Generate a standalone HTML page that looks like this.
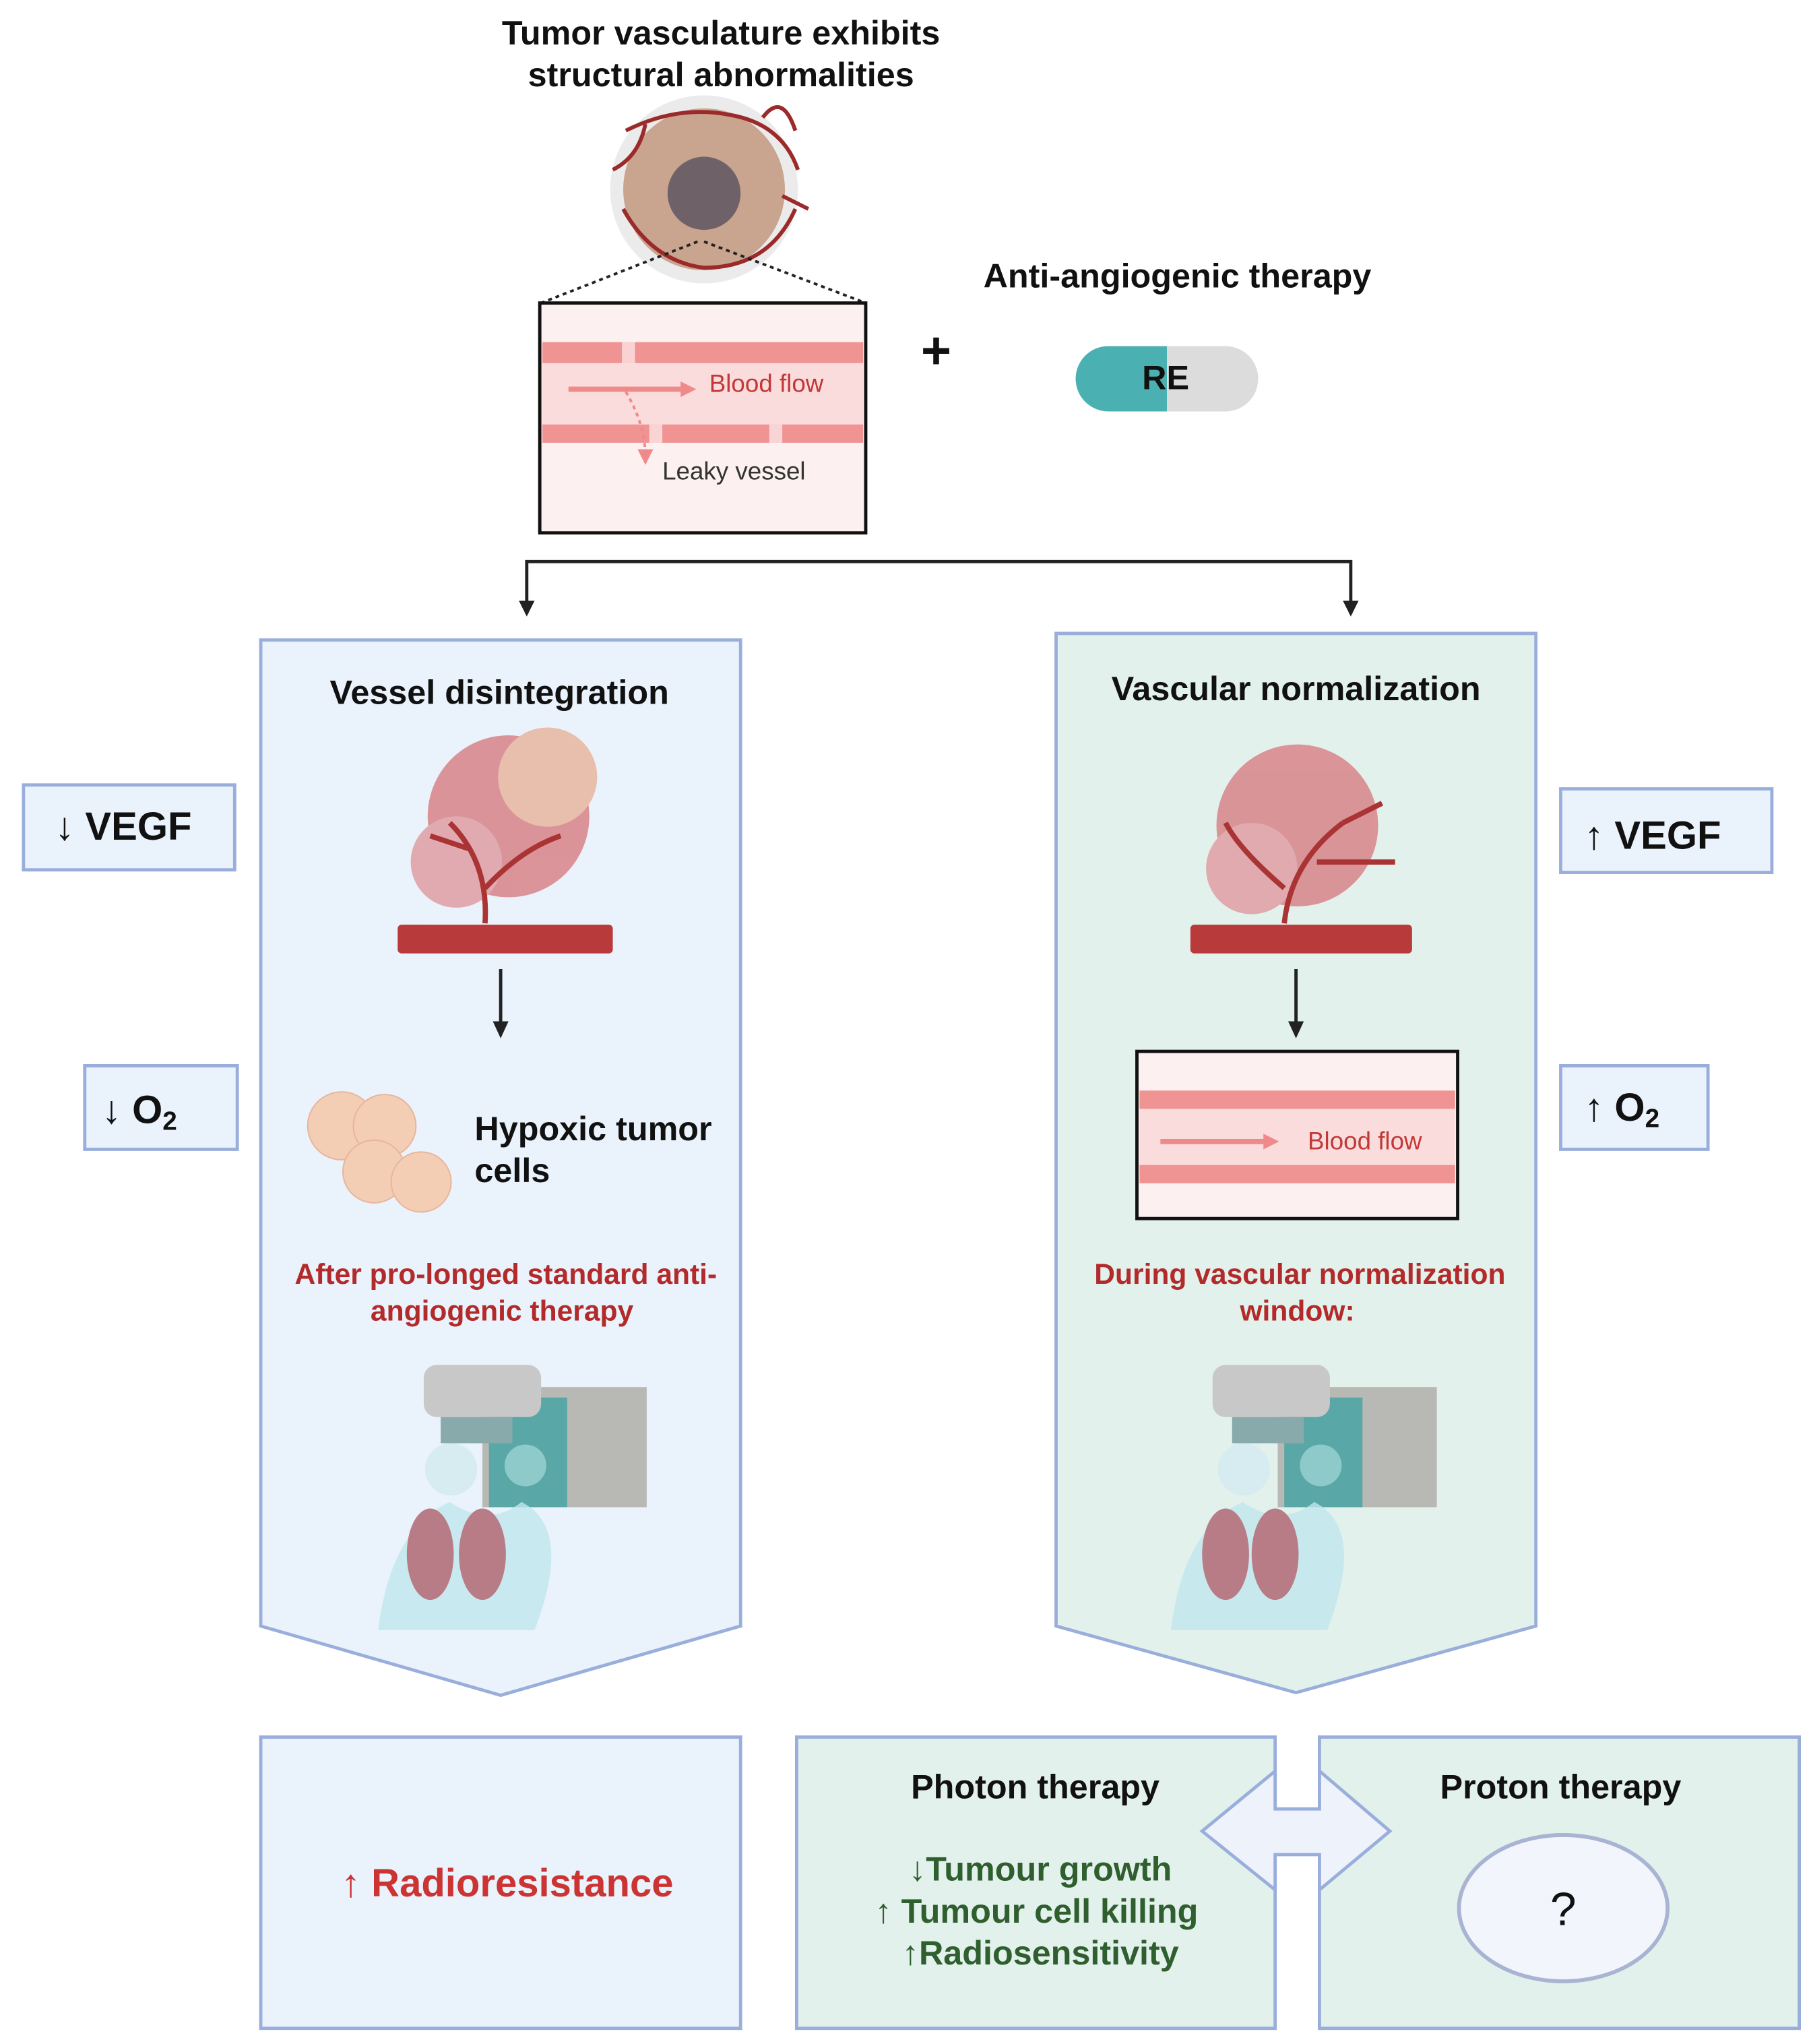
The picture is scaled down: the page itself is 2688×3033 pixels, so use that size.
<!DOCTYPE html>
<html><head><meta charset="utf-8"><style>html,body{margin:0;padding:0;background:#fff}svg{display:block}text{font-family:"Liberation Sans",sans-serif}</style></head><body>
<svg width="2688" height="3033" viewBox="0 0 1389 1565" preserveAspectRatio="none" xmlns="http://www.w3.org/2000/svg">
<defs>
<marker id="ah" markerWidth="10" markerHeight="10" refX="5" refY="5" orient="auto" markerUnits="userSpaceOnUse"><path d="M0,0 L10,5 L0,10 z" fill="#222"/></marker>
<marker id="ahp" markerWidth="12" markerHeight="12" refX="6" refY="6" orient="auto" markerUnits="userSpaceOnUse"><path d="M0,0 L12,6 L0,12 z" fill="#ee8a8a"/></marker>
</defs>
<rect width="1389" height="1565" fill="#fff"/>
<text x="553" y="34" font-size="26" font-weight="bold" text-anchor="middle" fill="#111">Tumor vasculature exhibits</text>
<text x="553" y="66" font-size="26" font-weight="bold" text-anchor="middle" fill="#111">structural abnormalities</text>
<circle cx="540" cy="145" r="72" fill="#ddd" opacity="0.6"/>
<circle cx="540" cy="145" r="62" fill="#c9a48e"/>
<circle cx="540" cy="148" r="28" fill="#6e6268"/>
<g stroke="#9b2a2a" stroke-width="3" fill="none">
<path d="M480,100 Q520,80 560,88 Q600,95 612,130"/><path d="M478,160 Q500,200 540,205 Q590,205 610,160"/><path d="M470,130 Q490,120 495,95"/><path d="M585,90 Q600,70 610,100"/><path d="M600,150 L620,160"/>
</g>
<path d="M535,185 L415,232 M540,185 L664,232" stroke="#222" stroke-width="2" stroke-dasharray="3,3"/>
<rect x="414" y="232" width="250" height="176" fill="#fcf0f0" stroke="#111" stroke-width="2.5"/>
<rect x="416" y="262" width="246" height="70" fill="#fbdcdc"/>
<g fill="#f09393"><rect x="416" y="262" width="246" height="16"/><rect x="416" y="325" width="246" height="14"/></g>
<g fill="#fff" opacity="0.6"><rect x="477" y="262" width="10" height="16"/><rect x="498" y="325" width="10" height="14"/><rect x="590" y="325" width="10" height="14"/></g>
<line x1="436" y1="298" x2="528" y2="298" stroke="#ee8a8a" stroke-width="4" marker-end="url(#ahp)"/>
<path d="M480,300 Q495,325 495,350" stroke="#ee8a8a" stroke-width="2" stroke-dasharray="3,3" fill="none" marker-end="url(#ahp)"/>
<text x="544" y="300" font-size="19" fill="#c03838">Blood flow</text>
<text x="508" y="367" font-size="19" fill="#333">Leaky vessel</text>
<text x="718" y="282" font-size="40" font-weight="bold" text-anchor="middle" fill="#111">+</text>
<text x="903" y="220" font-size="26" font-weight="bold" text-anchor="middle" fill="#111">Anti-angiogenic therapy</text>
<path d="M850,265 L895,265 L895,315 L850,315 A25,25 0 0 1 850,265 z" fill="#4bb0b2"/>
<path d="M895,265 L940,265 A25,25 0 0 1 940,315 L895,315 z" fill="#dcdcdc"/>
<text x="894" y="298" font-size="26" font-weight="bold" text-anchor="middle" fill="#111">RE</text>
<path d="M404,470 L404,430 L1036,430 L1036,470" stroke="#222" stroke-width="2.5" fill="none"/>
<path d="M398,460 L404,472 L410,460 z M1030,460 L1036,472 L1042,460 z" fill="#222"/>
<!-- left panel -->
<path d="M200,490 L568,490 L568,1245 L384,1298 L200,1245 z" fill="#eaf2fb" stroke="#9aaedc" stroke-width="2.5"/>
<text x="383" y="539" font-size="26" font-weight="bold" text-anchor="middle" fill="#111">Vessel disintegration</text>
<g opacity="0.9"><circle cx="390" cy="625" r="62" fill="#d98a8f"/><circle cx="420" cy="595" r="38" fill="#e8b9a4"/><circle cx="350" cy="660" r="35" fill="#e0a3a8"/></g>
<path d="M372,707 Q375,660 345,630 M372,680 Q400,650 430,640 M360,650 L330,640" stroke="#a33" stroke-width="4" fill="none"/>
<rect x="305" y="708" width="165" height="22" rx="3" fill="#b83a3a"/>
<line x1="384" y1="742" x2="384" y2="792" stroke="#222" stroke-width="2.5"/><path d="M378,782 L384,795 L390,782 z" fill="#222"/>
<g fill="#f4cdb5" stroke="#e7b59b"><circle cx="262" cy="862" r="26"/><circle cx="295" cy="862" r="24"/><circle cx="287" cy="897" r="24"/><circle cx="323" cy="905" r="23"/></g>
<text x="364" y="873" font-size="26" font-weight="bold" fill="#111">Hypoxic tumor</text>
<text x="364" y="905" font-size="26" font-weight="bold" fill="#111">cells</text>
<text x="388" y="983" font-size="22" font-weight="bold" text-anchor="middle" fill="#b22a2a">After pro-longed standard anti-</text>
<text x="385" y="1011" font-size="22" font-weight="bold" text-anchor="middle" fill="#b22a2a">angiogenic therapy</text>
<g>
<rect x="370" y="1062" width="126" height="92" fill="#b8b8b4"/><rect x="375" y="1070" width="60" height="84" fill="#5aa7a7"/><circle cx="403" cy="1122" r="16" fill="#8fcaca"/>
<rect x="325" y="1045" width="90" height="40" rx="10" fill="#c8c8c8"/><rect x="338" y="1085" width="55" height="20" fill="#8aa"/>
<path d="M290,1248 Q300,1170 345,1150 Q375,1170 400,1150 Q440,1170 410,1248 z" fill="#bfe6ee" opacity="0.8"/>
<circle cx="346" cy="1125" r="20" fill="#d6ecf0"/>
<ellipse cx="330" cy="1190" rx="18" ry="35" fill="#b87c86"/><ellipse cx="370" cy="1190" rx="18" ry="35" fill="#b87c86"/>
</g>
<!-- right panel -->
<path d="M810,485 L1178,485 L1178,1245 L994,1296 L810,1245 z" fill="#e3f1ec" stroke="#9aaedc" stroke-width="2.5"/>
<text x="994" y="536" font-size="26" font-weight="bold" text-anchor="middle" fill="#111">Vascular normalization</text>
<g opacity="0.9"><circle cx="995" cy="632" r="62" fill="#d98a8f"/><circle cx="960" cy="665" r="35" fill="#e0a3a8"/></g>
<path d="M985,707 Q990,660 1030,630 M985,680 Q950,650 940,630 M1010,660 L1070,660 M1030,630 L1060,615" stroke="#a33" stroke-width="4" fill="none"/>
<rect x="913" y="708" width="170" height="22" rx="3" fill="#b83a3a"/>
<line x1="994" y1="742" x2="994" y2="792" stroke="#222" stroke-width="2.5"/><path d="M988,782 L994,795 L1000,782 z" fill="#222"/>
<rect x="872" y="805" width="246" height="128" fill="#fcf0f0" stroke="#111" stroke-width="2.5"/>
<rect x="874" y="835" width="242" height="65" fill="#fbdcdc"/>
<g fill="#f09393"><rect x="874" y="835" width="242" height="14"/><rect x="874" y="892" width="242" height="14"/></g>
<line x1="890" y1="874" x2="975" y2="874" stroke="#ee8a8a" stroke-width="4" marker-end="url(#ahp)"/>
<text x="1003" y="880" font-size="19" fill="#c03838">Blood flow</text>
<text x="997" y="983" font-size="22" font-weight="bold" text-anchor="middle" fill="#b22a2a">During vascular normalization</text>
<text x="995" y="1011" font-size="22" font-weight="bold" text-anchor="middle" fill="#b22a2a">window:</text>
<g>
<rect x="980" y="1062" width="122" height="92" fill="#b8b8b4"/><rect x="985" y="1070" width="60" height="84" fill="#5aa7a7"/><circle cx="1013" cy="1122" r="16" fill="#8fcaca"/>
<rect x="930" y="1045" width="90" height="40" rx="10" fill="#c8c8c8"/><rect x="945" y="1085" width="55" height="20" fill="#8aa"/>
<path d="M898,1248 Q908,1170 953,1150 Q983,1170 1008,1150 Q1048,1170 1018,1248 z" fill="#bfe6ee" opacity="0.8"/>
<circle cx="954" cy="1125" r="20" fill="#d6ecf0"/>
<ellipse cx="940" cy="1190" rx="18" ry="35" fill="#b87c86"/><ellipse cx="978" cy="1190" rx="18" ry="35" fill="#b87c86"/>
</g>
<!-- side boxes -->
<g fill="#eaf2fb" stroke="#9aaedc" stroke-width="2.5">
<rect x="18" y="601" width="162" height="65"/><rect x="65" y="816" width="117" height="64"/>
<rect x="1197" y="604" width="162" height="64"/><rect x="1197" y="816" width="113" height="64"/>
</g>
<g font-size="30" font-weight="bold" fill="#111">
<text x="42" y="643">↓ VEGF</text><text x="78" y="860">↓ O<tspan font-size="20" dy="5">2</tspan></text>
<text x="1215" y="650">↑ VEGF</text><text x="1215" y="858">↑ O<tspan font-size="20" dy="5">2</tspan></text>
</g>
<!-- bottom -->
<rect x="200" y="1330" width="368" height="223" fill="#eaf2fb" stroke="#9aaedc" stroke-width="2.5"/>
<text x="389" y="1452" font-size="30" font-weight="bold" text-anchor="middle" fill="#cc3333">↑ Radioresistance</text>
<rect x="611" y="1330" width="367" height="223" fill="#e3f1ec" stroke="#9aaedc" stroke-width="2.5"/>
<rect x="1012" y="1330" width="368" height="223" fill="#e3f1ec" stroke="#9aaedc" stroke-width="2.5"/>
<path d="M922,1402 L978,1356 L978,1385 L1012,1385 L1012,1356 L1066,1402 L1012,1447 L1012,1420 L978,1420 L978,1447 z" fill="#edf2fb" stroke="#9aaedc" stroke-width="2.5"/>
<text x="794" y="1377" font-size="26" font-weight="bold" text-anchor="middle" fill="#111">Photon therapy</text>
<text x="1197" y="1377" font-size="26" font-weight="bold" text-anchor="middle" fill="#111">Proton therapy</text>
<g font-size="26" font-weight="bold" fill="#2f5e2f" text-anchor="middle">
<text x="798" y="1440">↓Tumour  growth</text><text x="795" y="1472">↑ Tumour cell killing</text><text x="798" y="1504">↑Radiosensitivity</text>
</g>
<ellipse cx="1199" cy="1461" rx="80" ry="56" fill="#f2f5fb" stroke="#a9b4d2" stroke-width="3"/>
<text x="1199" y="1474" font-size="36" text-anchor="middle" fill="#111" font-family="Liberation Serif,serif">?</text>
</svg>
</body></html>
